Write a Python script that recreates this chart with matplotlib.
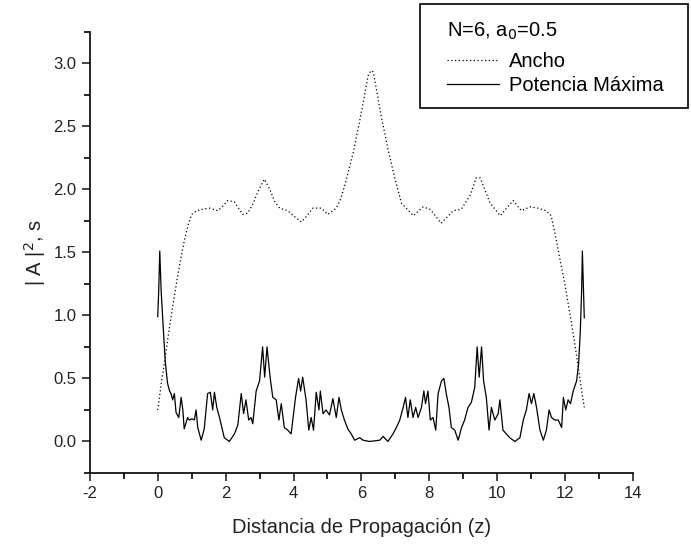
import matplotlib
matplotlib.use("Agg")
import matplotlib.pyplot as plt
from matplotlib.patches import Rectangle
from matplotlib.ticker import MultipleLocator, FormatStrFormatter

plt.rcParams["font.family"] = ["Liberation Sans", "DejaVu Sans"]
plt.rcParams["axes.unicode_minus"] = False

# Ancho (dotted curve)
z_ancho = [0.0, 0.1, 0.2, 0.3, 0.4, 0.5, 0.6, 0.7, 0.8, 0.9,
           1.0, 1.15, 1.3, 1.52, 1.77, 1.9, 2.06, 2.26, 2.5, 2.65,
           2.8, 2.95, 3.14, 3.3, 3.45, 3.59, 3.83, 4.0, 4.23, 4.4,
           4.57, 4.82, 5.01, 5.26, 5.4, 5.55, 5.7, 5.76, 5.97, 6.2,
           6.28, 6.35, 6.59, 6.79, 7.0, 7.18, 7.53, 7.82, 8.03, 8.35,
           8.71, 8.94, 9.2, 9.38, 9.5, 9.79, 10.09, 10.47, 10.71, 10.97,
           11.2, 11.44, 11.59, 11.74, 11.88, 12.0, 12.1, 12.2, 12.3, 12.4,
           12.5, 12.566]
ancho = [0.25, 0.45, 0.63, 0.82, 1.00, 1.17, 1.33, 1.48, 1.61, 1.72,
         1.80, 1.83, 1.84, 1.85, 1.83, 1.86, 1.91, 1.90, 1.80, 1.81,
         1.88, 1.98, 2.08, 2.00, 1.90, 1.85, 1.83, 1.79, 1.74, 1.79,
         1.85, 1.85, 1.80, 1.85, 1.93, 2.07, 2.23, 2.29, 2.57, 2.90,
         2.94, 2.93, 2.57, 2.31, 2.07, 1.89, 1.79, 1.86, 1.84, 1.73,
         1.83, 1.84, 1.95, 2.09, 2.09, 1.89, 1.79, 1.91, 1.83, 1.86,
         1.85, 1.83, 1.79, 1.60, 1.40, 1.24, 1.08, 0.92, 0.75, 0.57,
         0.38, 0.27]

# Potencia Maxima (solid curve)
z_pot = [0.0, 0.03, 0.06, 0.10, 0.15, 0.22, 0.29, 0.35, 0.39, 0.44,
         0.49, 0.54, 0.62, 0.69, 0.74, 0.78, 0.88, 0.93, 1.01, 1.08,
         1.13, 1.18, 1.28, 1.37, 1.47, 1.55, 1.62, 1.67, 1.74, 1.82,
         1.90, 1.96, 2.11, 2.26, 2.36, 2.46, 2.53, 2.60, 2.68, 2.75,
         2.80, 2.90, 3.00, 3.09, 3.15, 3.22, 3.31, 3.39, 3.49, 3.57,
         3.64, 3.73, 3.83, 3.93, 3.98, 4.06, 4.15, 4.21, 4.27, 4.37,
         4.45, 4.52, 4.59, 4.67, 4.75, 4.79, 4.87, 4.96, 5.06, 5.16,
         5.26, 5.34, 5.41, 5.50, 5.60, 5.70, 5.80, 5.95, 6.05, 6.24,
         6.54, 6.64, 6.78, 6.93, 7.03, 7.13, 7.23, 7.30, 7.37, 7.44,
         7.52, 7.60, 7.67, 7.77, 7.84, 7.89, 7.96, 8.03, 8.11, 8.19,
         8.26, 8.36, 8.43, 8.50, 8.58, 8.65, 8.75, 8.85, 8.95, 9.04,
         9.14, 9.24, 9.34, 9.41, 9.47, 9.54, 9.60, 9.68, 9.76, 9.83,
         9.93, 10.03, 10.08, 10.17, 10.27, 10.37, 10.52, 10.67, 10.77, 10.86,
         10.94, 11.01, 11.08, 11.16, 11.26, 11.36, 11.45, 11.53, 11.60, 11.70,
         11.80, 11.90, 11.95, 12.02, 12.09, 12.16, 12.24, 12.34, 12.40, 12.45,
         12.49, 12.51, 12.566]
potencia = [0.99, 1.20, 1.51, 1.20, 0.96, 0.64, 0.46, 0.40, 0.38, 0.33,
            0.38, 0.23, 0.19, 0.35, 0.25, 0.10, 0.19, 0.17, 0.18, 0.17,
            0.25, 0.11, 0.01, 0.10, 0.38, 0.39, 0.25, 0.39, 0.27, 0.19,
            0.10, 0.03, 0.00, 0.06, 0.13, 0.38, 0.22, 0.33, 0.17, 0.19,
            0.14, 0.40, 0.48, 0.75, 0.51, 0.75, 0.51, 0.35, 0.33, 0.17,
            0.30, 0.11, 0.09, 0.06, 0.17, 0.35, 0.50, 0.40, 0.51, 0.33,
            0.09, 0.19, 0.09, 0.39, 0.25, 0.40, 0.22, 0.25, 0.21, 0.34,
            0.19, 0.35, 0.25, 0.17, 0.10, 0.06, 0.01, 0.03, 0.01, 0.00,
            0.01, 0.04, 0.00, 0.06, 0.11, 0.17, 0.27, 0.35, 0.19, 0.33,
            0.19, 0.27, 0.19, 0.27, 0.40, 0.30, 0.40, 0.17, 0.19, 0.09,
            0.38, 0.48, 0.50, 0.38, 0.27, 0.11, 0.09, 0.01, 0.11, 0.17,
            0.27, 0.31, 0.43, 0.75, 0.51, 0.75, 0.48, 0.35, 0.09, 0.27,
            0.17, 0.22, 0.33, 0.09, 0.06, 0.03, 0.00, 0.03, 0.17, 0.25,
            0.38, 0.30, 0.38, 0.27, 0.09, 0.01, 0.09, 0.25, 0.19, 0.17,
            0.17, 0.11, 0.35, 0.25, 0.33, 0.30, 0.40, 0.48, 0.62, 0.88,
            1.22, 1.51, 0.98]

fig = plt.figure(figsize=(6.91, 5.44), dpi=100)
ax = fig.add_axes([0.130, 0.1305, 0.786, 0.8115])

ax.plot(z_ancho, ancho, color="black", linestyle=(0, (1, 2)), linewidth=0.9,
        label="Ancho")
ax.plot(z_pot, potencia, color="black", linestyle="-", linewidth=0.9,
        label="Potencia Máxima")

ax.set_xlim(-2, 14)
ax.set_ylim(-0.25, 3.25)
ax.xaxis.set_major_locator(MultipleLocator(2))
ax.xaxis.set_minor_locator(MultipleLocator(1))
ax.yaxis.set_major_locator(MultipleLocator(0.5))
ax.yaxis.set_minor_locator(MultipleLocator(0.25))
ax.yaxis.set_major_formatter(FormatStrFormatter("%.1f"))

ax.spines["top"].set_visible(False)
ax.spines["right"].set_visible(False)
for s in ["left", "bottom"]:
    ax.spines[s].set_linewidth(1.2)
ax.tick_params(which="major", direction="out", length=6, width=1.2,
               labelsize=12, colors="#222222")
ax.tick_params(which="minor", direction="out", length=4, width=1.2)

ax.set_xlabel("Distancia de Propagación (z)", fontsize=14.5, color="#222222",
              labelpad=12)
ax.set_ylabel("| A |$^2$, s", fontsize=14.5, color="#222222", labelpad=4)

# legend without its own frame, frame drawn separately
leg = ax.legend(title="N=6, a$_0$=0.5", loc="upper left",
                bbox_to_anchor=(447 / 691, 1 - 21 / 544),
                bbox_transform=fig.transFigure,
                fontsize=14.5, title_fontsize=14.5, frameon=False,
                handlelength=2.6, handletextpad=0.5, labelspacing=0.25,
                borderpad=0, borderaxespad=0, alignment="left")
leg._legend_box.sep = 7
fig.add_artist(Rectangle((420 / 691, 1 - 108 / 544), 268 / 691, 104 / 544,
                         transform=fig.transFigure, fill=False,
                         edgecolor="black", linewidth=1.2))

fig.savefig("out.png", dpi=100)
